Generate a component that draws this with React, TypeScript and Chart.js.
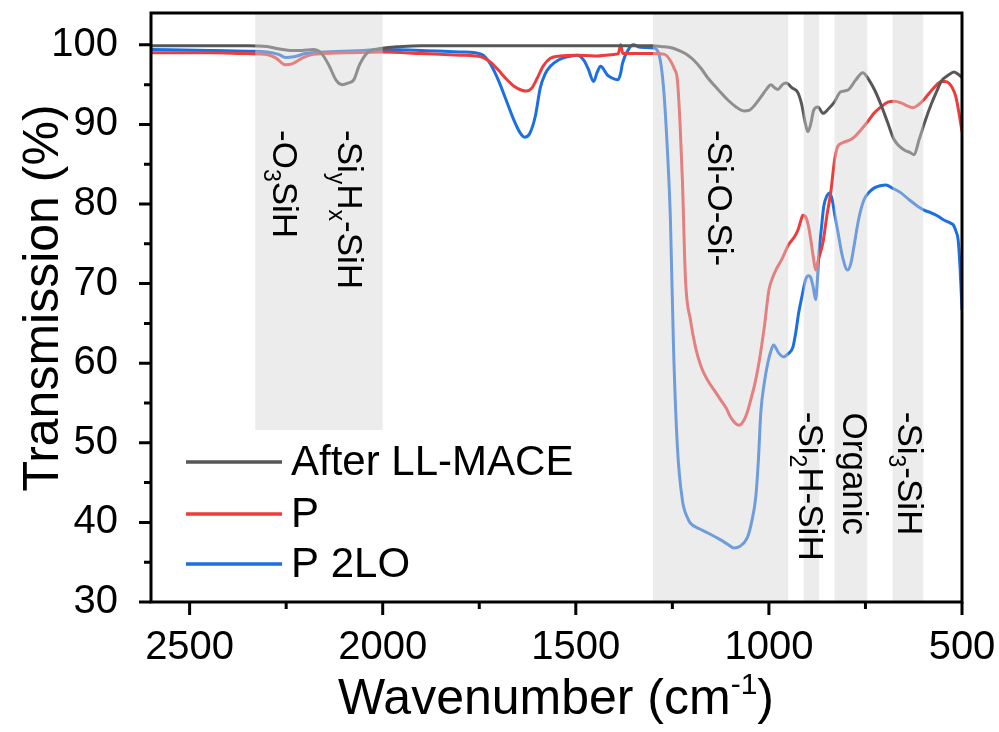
import React, { useEffect, useRef } from "react";
import { Chart, registerables } from "chart.js";

Chart.register(...registerables);

// ---------- Data ----------
const grayWavenumbers = [
  2600, 2450, 2350, 2300, 2270, 2240, 2210, 2180, 2160, 2140, 2120, 2105, 2090, 2075, 2060, 2040, 2010,
  1950, 1900, 1800, 1600, 1400, 1300, 1280, 1250, 1229, 1210, 1195, 1175, 1159, 1130, 1107, 1085, 1065,
  1050, 1039, 1020, 1005, 995, 985, 977, 965, 956, 940, 925, 915, 905, 899, 892, 884, 873, 860, 845, 832,
  814, 796, 775, 757, 741, 725, 710, 693, 676, 650, 635, 624, 611, 595, 580, 565, 554, 535, 521, 510, 500,
];
const grayValues = [
  99.9, 99.9, 99.9, 99.8, 99.5, 99.3, 99.3, 99.4, 99.0, 97.5, 95.5, 95.0, 95.2, 95.6, 97.5, 99.0, 99.5,
  99.8, 99.9, 99.9, 99.9, 99.9, 99.9, 99.8, 99.6, 99.2, 98.7, 98.1, 97.0, 95.9, 94.3, 93.1, 92.2, 91.7,
  91.8, 92.3, 93.5, 94.5, 95.0, 94.6, 94.4, 95.0, 95.2, 94.6, 94.0, 92.5, 90.0, 89.1, 90.0, 91.8, 92.2, 91.4, 92.0, 92.7,
  94.1, 94.3, 95.6, 96.5, 95.6, 94.2, 92.5, 90.3, 88.1, 86.8, 86.5, 86.2, 88.1, 90.5, 92.5, 94.2, 95.4, 96.2, 96.6, 96.3, 95.9,
];

const redWavenumbers = [
  2600, 2450, 2350, 2300, 2275, 2253, 2235, 2210, 2180, 2100, 2000, 1900, 1800, 1760, 1740, 1720, 1700,
  1680, 1660, 1640, 1628, 1615, 1600, 1585, 1566, 1540, 1500, 1450, 1400, 1390, 1384, 1378, 1350, 1300,
  1270, 1255, 1245, 1237, 1230, 1224, 1216, 1203, 1190, 1175, 1159, 1140, 1125, 1110, 1099, 1088, 1078,
  1065, 1055, 1047, 1036, 1026, 1012, 1000, 990, 982, 965, 949, 935, 925, 918, 912, 904, 897, 890, 884,
  879, 872, 860, 850, 840, 830, 822, 809, 788, 775, 762, 745, 728, 710, 692, 675, 658, 640, 627, 612,
  599, 580, 565, 554, 544, 534, 525, 516, 508, 500,
];
const redValues = [
  99.0, 99.0, 98.9, 98.8, 98.3, 97.5, 97.6, 98.3, 98.8, 99.0, 99.1, 98.9, 98.7, 98.6, 98.4, 97.8, 96.8,
  95.7, 94.8, 94.3, 94.2, 94.5, 95.8, 97.3, 98.3, 98.6, 98.7, 98.6, 98.8, 98.9, 100.0, 98.9, 98.9, 98.9,
  98.8, 98.0, 97.0, 95.6, 90.0, 83.0, 70.5, 65.4, 62.0, 59.5, 57.9, 56.5, 55.4, 54.3, 53.2, 52.5, 52.2,
  52.8, 54.0, 55.4, 57.5, 60.0, 64.5, 69.2, 70.8, 71.7, 73.2, 74.9, 75.8, 76.7, 77.8, 78.6, 78.3, 77.1, 75.0, 73.0,
  71.7, 73.0, 75.2, 78.5, 81.4, 85.5, 87.2, 87.7, 88.1, 88.6, 89.3, 90.3, 91.4, 92.2, 92.8, 92.9, 92.7, 92.3, 92.1, 92.5,
  93.1, 94.2, 95.0, 95.4, 95.4, 95.2, 94.6, 93.5, 91.5, 89.1,
];

const blueWavenumbers = [
  2600, 2450, 2350, 2300, 2270, 2250, 2230, 2200, 2150, 2050, 2000, 1900, 1800, 1760, 1740, 1720, 1700,
  1680, 1660, 1645, 1633, 1620, 1605, 1592, 1580, 1566, 1545, 1522, 1496, 1480, 1468, 1454, 1445, 1436,
  1418, 1405, 1392, 1384, 1379, 1364, 1351, 1333, 1299, 1286, 1273, 1262, 1255, 1247, 1237, 1224, 1210,
  1203, 1180, 1159, 1125, 1105, 1091, 1075, 1055, 1045, 1034, 1027, 1021, 1012, 1003, 995, 988, 975, 962,
  950, 938, 930, 923, 914, 905, 898, 892, 885, 879, 875, 871, 864, 858, 850, 842, 836, 829, 822, 810, 796,
  788, 780, 768, 754, 740, 728, 712, 697, 680, 658, 636, 614, 597, 580, 563, 547, 530, 523, 515, 510, 505, 500,
];
const blueValues = [
  99.4, 99.3, 99.2, 99.1, 98.8, 98.4, 98.5, 98.9, 99.1, 99.3, 99.4, 99.3, 99.1, 99.0, 98.7, 97.5, 95.5,
  93.0, 90.5, 89.0, 88.4, 88.8, 91.0, 94.6, 96.3, 97.3, 98.1, 98.5, 98.7, 98.1, 97.0, 95.4, 96.5, 97.3,
  96.2, 95.8, 95.6, 96.4, 97.7, 99.4, 100.0, 99.7, 99.6, 99.0, 94.7, 86.0, 78.0, 62.0, 49.5, 42.8, 40.5,
  39.9, 39.2, 38.7, 37.8, 37.2, 36.8, 37.0, 38.2, 40.0, 43.2, 48.0, 53.8, 57.5, 60.0, 61.5, 62.3, 61.3, 60.8,
  61.2, 62.0, 64.0, 66.3, 68.5, 70.5, 71.0, 70.8, 69.5, 68.0, 70.0, 73.4, 77.0, 79.7, 81.0, 81.4, 80.5, 78.5, 76.7, 73.5, 71.7,
  72.5, 74.6, 78.0, 80.5, 81.5, 82.0, 82.3, 82.4, 82.0, 81.4, 80.5, 79.7, 79.2, 78.9, 78.5, 78.0, 77.6, 77.4, 76.5, 75.5, 72.0, 66.7,
];

const seriesLabels = ["After LL-MACE", "P", "P 2LO"];
const xTickValues = [2500, 2250, 2000, 1750, 1500, 1250, 1000, 750, 500];
const yTickValues = [30, 35, 40, 45, 50, 55, 60, 65, 70, 75, 80, 85, 90, 95, 100];

// shaded bands: from, to, lower value (null = full height)
const bandFrom = [2330, 1300, 910, 830, 680];
const bandTo = [2000, 950, 870, 745, 600];
const bandLow = [51.6, null, null, null, null];

// rotated annotations: text segments (1 = subscript), anchor wavenumber, anchor value
const annotationSegments = [
  [["-O", 0], ["3", 1], ["SiH", 0]],
  [["-Si", 0], ["y", 1], ["H", 0], ["x", 1], ["-SiH", 0]],
  [["-Si-O-Si-", 0]],
  [["-Si", 0], ["2", 1], ["H-SiH", 0]],
  [["Organic", 0]],
  [["-Si", 0], ["3", 1], ["-SiH", 0]],
];
const annotationWavenumbers = [2284, 2116, 1159, 923, 809, 666];
const annotationValues = [89.3, 89.3, 89.3, 53.9, 53.8, 53.9];

const FONT = "'Liberation Sans', Arial, Helvetica, sans-serif";
const COLORS = ["#575757", "#ee3b3b", "#1c6fe0"];

const zeroPad = (s: any) => {
  s.paddingTop = 0;
  s.paddingBottom = 0;
  s.paddingLeft = 0;
  s.paddingRight = 0;
};

const decorPlugin = {
  id: "decor",
  afterDatasetsDraw(chart: any) {
    const { ctx, chartArea, scales } = chart;
    const { top, bottom } = chartArea;
    const xs = scales.x;
    const ys = scales.y;
    ctx.save();
    ctx.fillStyle = "rgba(212,212,212,0.45)";
    for (let i = 0; i < bandFrom.length; i++) {
      const x1 = xs.getPixelForValue(bandFrom[i]);
      const x2 = xs.getPixelForValue(bandTo[i]);
      const low = bandLow[i];
      const yb = low == null ? bottom : ys.getPixelForValue(low);
      ctx.fillRect(Math.min(x1, x2), top, Math.abs(x2 - x1), yb - top);
    }
    ctx.restore();
  },
  afterDraw(chart: any) {
    const { ctx, chartArea, scales } = chart;
    const { left, right, top, bottom } = chartArea;
    const xs = scales.x;
    const ys = scales.y;
    ctx.save();
    // frame
    ctx.strokeStyle = "#000";
    ctx.lineWidth = 3;
    ctx.strokeRect(left, top, right - left, bottom - top);
    // ticks
    ctx.beginPath();
    xTickValues.forEach((v) => {
      const px = xs.getPixelForValue(v);
      const len = v % 500 === 0 ? 13 : 7;
      ctx.moveTo(px, bottom);
      ctx.lineTo(px, bottom + len);
    });
    yTickValues.forEach((v) => {
      const py = ys.getPixelForValue(v);
      const len = v % 10 === 0 ? 12 : 7;
      ctx.moveTo(left, py);
      ctx.lineTo(left - len, py);
    });
    ctx.stroke();

    // y title
    ctx.fillStyle = "#000";
    ctx.font = `50px ${FONT}`;
    ctx.save();
    ctx.translate(58, 298);
    ctx.rotate(-Math.PI / 2);
    ctx.textAlign = "center";
    ctx.textBaseline = "alphabetic";
    ctx.fillText("Transmission (%)", 0, 0);
    ctx.restore();

    // x title with superscript
    const main1 = "Wavenumber (cm";
    const sup = "-1";
    const main2 = ")";
    ctx.font = `50px ${FONT}`;
    const w1 = ctx.measureText(main1).width;
    const w3 = ctx.measureText(main2).width;
    ctx.font = `30px ${FONT}`;
    const w2 = ctx.measureText(sup).width;
    const total = w1 + w2 + w3;
    const cx = 556;
    let sx = cx - total / 2;
    const by = 714;
    ctx.textAlign = "left";
    ctx.textBaseline = "alphabetic";
    ctx.font = `50px ${FONT}`;
    ctx.fillText(main1, sx, by);
    sx += w1;
    ctx.font = `30px ${FONT}`;
    ctx.fillText(sup, sx, by - 20);
    sx += w2;
    ctx.font = `50px ${FONT}`;
    ctx.fillText(main2, sx, by);

    // legend
    const legY = [462, 514, 564];
    chart.data.datasets.forEach((ds: any, i: number) => {
      ctx.strokeStyle = ds.borderColor;
      ctx.lineWidth = 3.5;
      ctx.beginPath();
      ctx.moveTo(186, legY[i]);
      ctx.lineTo(282, legY[i]);
      ctx.stroke();
      ctx.fillStyle = "#000";
      ctx.font = `42px ${FONT}`;
      ctx.textAlign = "left";
      ctx.textBaseline = "middle";
      ctx.fillText(ds.label, 291, legY[i] + 1);
    });

    // annotations (rotated clockwise)
    annotationSegments.forEach((segs: any, i: number) => {
      const ax = xs.getPixelForValue(annotationWavenumbers[i]);
      const ay = ys.getPixelForValue(annotationValues[i]);
      ctx.save();
      ctx.translate(ax, ay);
      ctx.rotate(Math.PI / 2);
      ctx.fillStyle = "#000";
      ctx.textAlign = "left";
      ctx.textBaseline = "alphabetic";
      let off = 0;
      segs.forEach(([t, isSub]: any) => {
        ctx.font = isSub ? `23px ${FONT}` : `35px ${FONT}`;
        ctx.fillText(t, off, isSub ? 9 : 0);
        off += ctx.measureText(t).width;
      });
      ctx.restore();
    });
    ctx.restore();
  },
};

export default function App() {
  const ref = useRef<HTMLCanvasElement | null>(null);
  useEffect(() => {
    if (!ref.current) return;
    const mk = (xsArr: number[], ysArr: number[]) => xsArr.map((x, i) => ({ x, y: ysArr[i] }));
    const chart = new Chart(ref.current, {
      type: "line",
      data: {
        datasets: [
          { label: seriesLabels[0], data: mk(grayWavenumbers, grayValues), borderColor: COLORS[0] },
          { label: seriesLabels[1], data: mk(redWavenumbers, redValues), borderColor: COLORS[1] },
          { label: seriesLabels[2], data: mk(blueWavenumbers, blueValues), borderColor: COLORS[2] },
        ].map((d) => ({
          ...d,
          borderWidth: 3,
          pointRadius: 0,
          fill: false,
          cubicInterpolationMode: "monotone" as const,
        })),
      },
      options: {
        responsive: false,
        animation: false,
        events: [],
        layout: { padding: { top: 13, right: 37, left: 0, bottom: 0 } },
        plugins: { legend: { display: false }, tooltip: { enabled: false } },
        scales: {
          x: {
            type: "linear",
            reverse: true,
            min: 500,
            max: 2600,
            afterBuildTicks: (s: any) => {
              s.ticks = xTickValues.map((v) => ({ value: v }));
            },
            afterFit: (s: any) => {
              s.height = 130;
              zeroPad(s);
            },
            grid: { display: false, drawTicks: false },
            border: { display: false },
            ticks: {
              padding: 22,
              color: "#000",
              font: { family: FONT, size: 40 },
              maxRotation: 0,
              autoSkip: false,
              callback: (v: any) => (Number(v) % 500 === 0 ? String(v) : ""),
            },
          },
          y: {
            type: "linear",
            min: 30,
            max: 104,
            afterBuildTicks: (s: any) => {
              s.ticks = yTickValues.map((v) => ({ value: v }));
            },
            afterFit: (s: any) => {
              s.width = 151;
              zeroPad(s);
            },
            grid: { display: false, drawTicks: false },
            border: { display: false },
            ticks: {
              padding: 33,
              color: "#000",
              font: { family: FONT, size: 40 },
              autoSkip: false,
              callback: (v: any) => (Number(v) % 10 === 0 ? String(v) : ""),
            },
          },
        },
      },
      plugins: [decorPlugin],
    });
    return () => chart.destroy();
  }, []);
  return (
    <div style={{ position: "fixed", left: 0, top: 0, width: 999, height: 732, background: "#fff" }}>
      <canvas ref={ref} width={999} height={732} style={{ width: 999, height: 732 }} />
    </div>
  );
}
